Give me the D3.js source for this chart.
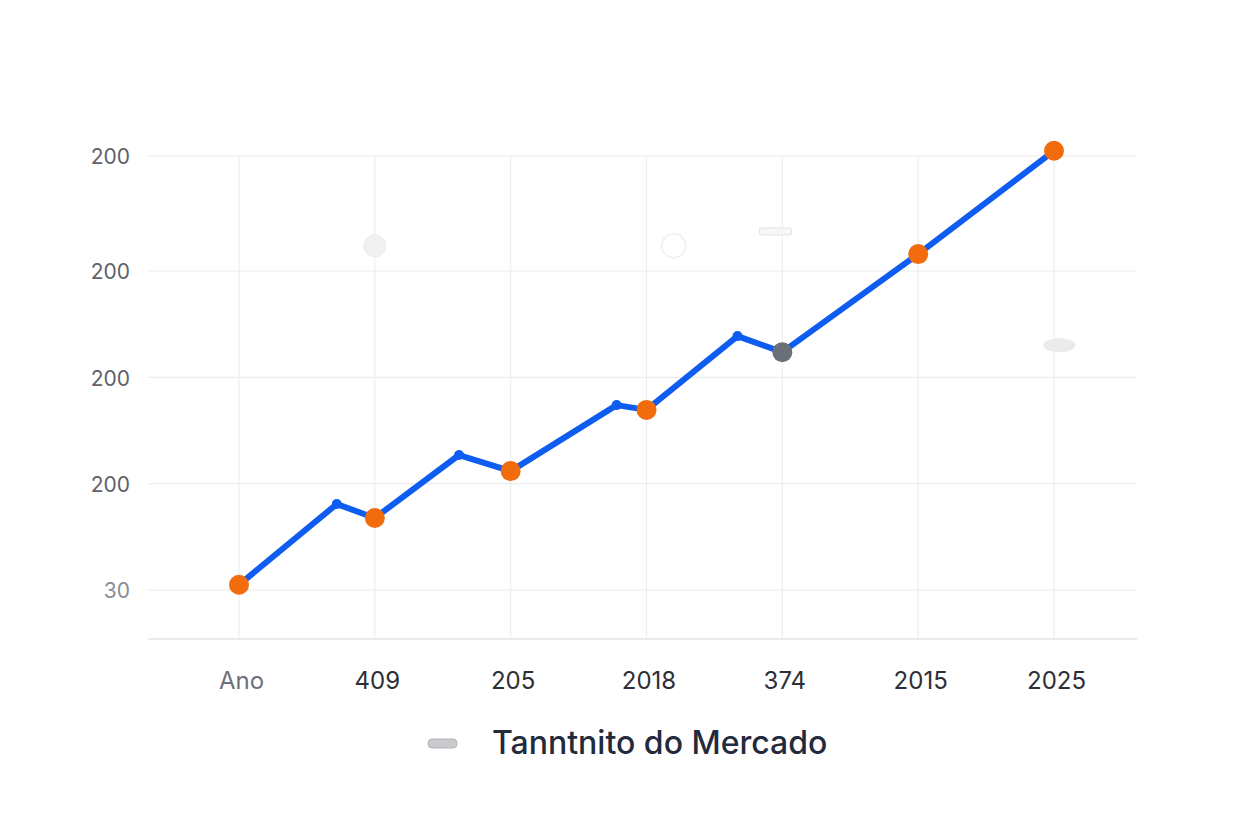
<!DOCTYPE html>
<html>
<head>
<meta charset="utf-8">
<script src="https://cdn.jsdelivr.net/npm/d3@7/dist/d3.min.js"></script>
<style>
  html, body { margin: 0; padding: 0; background: #ffffff; }
  svg { display: block; font-family: Inter, "Noto Sans", "DejaVu Sans", sans-serif; }
</style>
</head>
<body>
<svg id="chart" width="1248" height="832"></svg>
<script>
// ---- data ----
const categories = ["Ano", "409", "205", "2018", "374", "2015", "2025"];
const yTickValues = [0, 24.5, 49, 73.5, 100];
const yTickLabels = ["30", "200", "200", "200", "200"];
// line vertices: position along the category axis (index) and value
const seriesX = [0, 0.72, 1, 1.62, 2, 2.78, 3, 3.67, 4, 5, 6];
const seriesY = [1.2, 19.8, 16.6, 31.1, 27.4, 42.6, 41.5, 58.5, 54.8, 77.4, 101.2];
// markers at each category (value taken from the line)
const markerIdx = [0, 2, 4, 6, 8, 9, 10];
const markerKind = ["hi", "hi", "hi", "hi", "mid", "hi", "hi"];
const legendLabel = "Tanntnito do Mercado";
// faint ghost shapes in the plot (category index, value)
const ghostX = [1, 3.2, 3.95, 6.04];
const ghostY = [79.3, 79.3, 82.5, 56.4];
const ghostKind = ["disc", "ring", "bar", "blob"];

// ---- layout ----
const svg = d3.select("#chart");
const plot = { left: 148, right: 1137, top: 156, bottom: 639 };
const x = d3.scaleLinear().domain([0, 6]).range([239, 1054]);
const y = d3.scaleLinear().domain([0, 100]).range([590, 156]);

const g = svg.append("g");

// horizontal gridlines
g.append("g")
  .selectAll("line").data(yTickValues).join("line")
  .attr("x1", plot.left).attr("x2", plot.right)
  .attr("y1", d => y(d)).attr("y2", d => y(d))
  .attr("stroke", "#ececef").attr("stroke-width", 1.2);

// vertical gridlines
g.append("g")
  .selectAll("line").data(categories).join("line")
  .attr("x1", (d, i) => x(i)).attr("x2", (d, i) => x(i))
  .attr("y1", plot.top).attr("y2", plot.bottom)
  .attr("stroke", "#eeeef1").attr("stroke-width", 1.2);

// bottom axis line
g.append("line")
  .attr("x1", plot.left).attr("x2", plot.right)
  .attr("y1", plot.bottom).attr("y2", plot.bottom)
  .attr("stroke", "#e3e4e8").attr("stroke-width", 1.5);

// y axis labels
const yAxis = d3.axisLeft(y).tickValues(yTickValues)
  .tickFormat((d, i) => yTickLabels[i]).tickSize(0).tickPadding(0);
const ya = svg.append("g").attr("transform", "translate(130,1)").call(yAxis);
ya.select(".domain").remove();
ya.selectAll("text")
  .attr("font-size", 21).attr("fill", (d, i) => i === 0 ? "#8a8d94" : "#5f6269")
  .attr("font-family", "Inter, 'Noto Sans', sans-serif");

// x axis labels
const xAxis = d3.axisBottom(x).tickValues(d3.range(categories.length))
  .tickFormat(i => categories[i]).tickSize(0).tickPadding(0);
const xa = svg.append("g").attr("transform", "translate(2,681)").call(xAxis);
xa.select(".domain").remove();
xa.selectAll("text")
  .attr("font-size", 24).attr("dy", "0.35em")
  .attr("fill", (d, i) => i === 0 ? "#6d7079" : "#2c2f38")
  .attr("font-family", "Inter, 'Noto Sans', sans-serif");

// ghosts
const ghosts = g.append("g");
ghostKind.forEach((k, i) => {
  const cx = x(ghostX[i]), cy = y(ghostY[i]);
  if (k === "disc") ghosts.append("circle").attr("cx", cx).attr("cy", cy).attr("r", 11)
    .attr("fill", "#f1f1f2").attr("stroke", "#ebebec");
  if (k === "ring") ghosts.append("circle").attr("cx", cx).attr("cy", cy).attr("r", 12)
    .attr("fill", "none").attr("stroke", "#efeff1").attr("stroke-width", 1.5);
  if (k === "bar") ghosts.append("rect").attr("x", cx - 16).attr("y", cy - 4).attr("width", 32).attr("height", 7)
    .attr("rx", 2).attr("fill", "#f7f7f8").attr("stroke", "#e2e2e4");
  if (k === "blob") ghosts.append("ellipse").attr("cx", cx).attr("cy", cy).attr("rx", 16).attr("ry", 7)
    .attr("fill", "#ebebed");
});

// line
const pts = seriesX.map((d, i) => [x(d), y(seriesY[i])]);
g.append("path")
  .attr("d", d3.line()(pts))
  .attr("fill", "none").attr("stroke", "#0f5cf0").attr("stroke-width", 6)
  .attr("stroke-linejoin", "round").attr("stroke-linecap", "round");

// small vertices
g.append("g").selectAll("circle")
  .data(seriesX.map((d, i) => i).filter(i => !markerIdx.includes(i)))
  .join("circle")
  .attr("cx", i => x(seriesX[i])).attr("cy", i => y(seriesY[i])).attr("r", 5)
  .attr("fill", "#0f5cf0");

// category markers
g.append("g").selectAll("circle")
  .data(markerIdx).join("circle")
  .attr("cx", i => x(seriesX[i])).attr("cy", i => y(seriesY[i])).attr("r", 10)
  .attr("fill", (d, j) => markerKind[j] === "mid" ? "#6b6f78" : "#f26b0c");

// legend
const lg = svg.append("g").attr("transform", "translate(428,743)");
lg.append("rect").attr("x", 0).attr("y", -4).attr("width", 29).attr("height", 9).attr("rx", 4)
  .attr("fill", "#c9cacd").attr("stroke", "#b3b5b9").attr("stroke-width", 1);
lg.append("text").attr("x", 64).attr("y", 0).attr("dy", "0.35em")
  .attr("font-size", 32).attr("font-weight", 500).attr("fill", "#222a3c")
  .attr("font-family", "Inter, 'Noto Sans', sans-serif")
  .text(legendLabel);
</script>
</body>
</html>
